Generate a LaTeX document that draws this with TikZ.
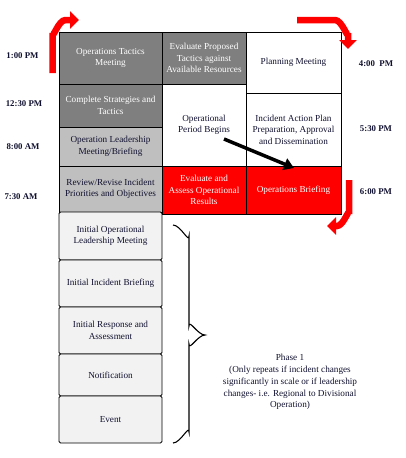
\documentclass[tikz,border=0pt]{standalone}
\usepackage{fontspec}
\setmainfont{Liberation Serif}
\usetikzlibrary{arrows.meta}
\definecolor{dgray}{HTML}{7F7F7F}
\definecolor{lgray}{HTML}{BFBFBF}
\definecolor{vlgray}{HTML}{F2F2F2}
\definecolor{ink}{HTML}{101030}
\begin{document}
\begin{tikzpicture}[x=1pt,y=-1pt,
  box/.style={draw=black, line width=0.8pt, inner sep=1pt, align=center, font=\fontsize{9.2}{11.5}\selectfont, text=ink},
  dbox/.style={box, fill=dgray, text=white},
  lbox/.style={box, fill=lgray},
  pbox/.style={box, fill=vlgray, rounded corners=1.5pt},
  rbox/.style={box, fill=red, text=white},
  wbox/.style={box, fill=white},
  time/.style={font=\bfseries\fontsize{8.8}{10}\selectfont, text=ink},
  redarrow/.style={red, line width=6.5pt, -{Triangle[width=17pt,length=9pt]}},
  note/.style={align=center, font=\fontsize{9.2}{11.8}\selectfont, text=ink}
]
\useasboundingbox (0,0) rectangle (405,458);
% left column
\node[dbox, minimum width=103, minimum height=52] (otm) at (110.5,58) {Operations Tactics\\Meeting};
\node[dbox, minimum width=103, minimum height=43] (cst) at (110.5,105.5) {Complete Strategies and\\Tactics};
\node[lbox, minimum width=103, minimum height=39] (olm) at (110.5,146.5) {Operation Leadership\\Meeting/Briefing};
\node[lbox, minimum width=103, minimum height=46] (rev) at (110.5,189) {Review/Revise Incident\\Priorities and Objectives};
% phase 1 column
\node[pbox, minimum width=103, minimum height=48] (p1) at (110.5,236) {Initial Operational\\Leadership Meeting};
\node[pbox, minimum width=103, minimum height=47] (p2) at (110.5,283.5) {Initial Incident Briefing};
\node[pbox, minimum width=103, minimum height=47] (p3) at (110.5,330.5) {Initial Response and\\Assessment};
\node[pbox, minimum width=103, minimum height=42] (p4) at (110.5,375) {Notification};
\node[pbox, minimum width=103, minimum height=47] (p5) at (110.5,419.5) {Event};
% middle column
\node[dbox, minimum width=84, minimum height=52] (evt) at (204,58) {Evaluate Proposed\\Tactics against\\Available Resources};
\node[wbox, minimum width=84, minimum height=82] (opb) at (204,125) {Operational\\Period Begins};
\node[rbox, minimum width=84, minimum height=48] (eaor) at (204,190) {Evaluate and\\Assess Operational\\Results};
% right column
\node[wbox, minimum width=95, minimum height=61] (plan) at (293.5,62.5) {Planning Meeting};
\node[wbox, minimum width=95, minimum height=73] (iap) at (293.5,129.5) {Incident Action Plan\\Preparation, Approval\\and Dissemination};
\node[rbox, minimum width=95, minimum height=48] (ob) at (293.5,190) {Operations Briefing};
% times
\node[time] (t1) at (22.5,56) {1:00 PM};
\node[time] (t2) at (24,104) {12:30 PM};
\node[time] (t3) at (23,147) {8:00 AM};
\node[time] (t4) at (21,197) {7:30 AM};
\node[time] (t5) at (376,64) {4:00~ PM};
\node[time] (t6) at (376,129) {5:30 PM};
\node[time] (t7) at (376,192) {6:00 PM};
% red arrows
\coordinate (a1s) at (52.5,73);
\coordinate (a1e) at (79,20);
\draw[redarrow] (a1s) -- (52.5,33) to[out=-90,in=180] (65.5,20) -- (a1e);
\coordinate (a2s) at (297,20);
\coordinate (a2e) at (348,49);
\draw[redarrow] (a2s) -- (335,20) to[out=0,in=-90] (348,33) -- (a2e);
\coordinate (a3s) at (349,180);
\coordinate (a3e) at (327,226);
\draw[redarrow] (a3s) -- (349,214) to[out=90,in=0] (337,226) -- (a3e);
% black arrow
\coordinate (bs) at (224,139);
\coordinate (be) at (294,168);
\draw[black, line width=3.5pt, -{Triangle[width=12pt,length=10pt]}] (bs) -- (be);
% brace
\coordinate (br1) at (173,225);
\coordinate (br2) at (173,443);
\draw[black, line width=1.1pt] (br1) to[out=0,in=-90] (189,236) -- (189,326) to[out=90,in=180] (205,335) to[out=180,in=-90] (189,344) -- (189,432) to[out=90,in=0] (br2);
% phase note
\node[note] (phase) at (290,382) {Phase 1\\(Only repeats if incident changes\\significantly in scale or if leadership\\changes- i.e. Regional to Divisional\\Operation)};
\end{tikzpicture}
\end{document}
